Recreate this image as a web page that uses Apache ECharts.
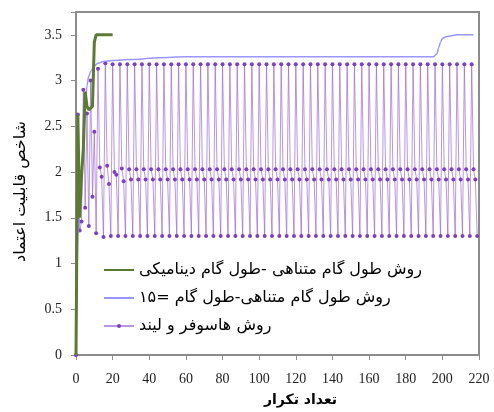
<!DOCTYPE html>
<html>
<head>
<meta charset="utf-8">
<script src="https://cdn.jsdelivr.net/npm/echarts@6/dist/echarts.min.js"></script>
<style>
html,body{margin:0;padding:0;background:#fff;}
#chart{width:494px;height:412px;}
</style>
</head>
<body>
<div id="chart"></div>
<script>
// Series names (legend)
const seriesNames = [
  'روش طول گام متناهی -طول گام دینامیکی',
  'روش طول گام متناهی-طول گام =۱۵',
  'روش هاسوفر و لیند'
];
const xAxisTitle = 'تعداد تکرار';
const yAxisTitle = 'شاخص قابلیت اعتماد';

// Dynamic step length (green), iterations 0..20
const greenY = [0, 2.63, 1.5, 1.95, 2.25, 2.88, 2.72, 2.68, 2.68, 2.72, 3.42, 3.5, 3.5, 3.5, 3.5, 3.5, 3.5, 3.5, 3.5, 3.5, 3.5];

// Finite step length = 15 (blue), read at selected iterations
const blueX = [0, 1, 2, 3, 4, 5, 6, 7, 8, 10, 12, 15, 20, 30, 45, 60, 195, 197, 198, 199, 200, 202, 205, 208, 217];
const blueY = [0, 1.3, 1.62, 1.95, 2.3, 2.65, 2.95, 3.05, 3.1, 3.16, 3.19, 3.21, 3.22, 3.23, 3.25, 3.26, 3.26, 3.29, 3.36, 3.42, 3.46, 3.48, 3.49, 3.5, 3.5];

// Hasofer-Lind (purple), iterations 0..219
const purpleY = [
  0, 2.63, 1.36, 1.46, 2.90, 1.61, 2.64, 1.41, 3.00, 1.73, 2.44, 1.33,
  3.13, 2.05, 1.95, 1.29, 3.19, 2.07, 1.87, 1.30, 3.18, 2.00, 1.97, 1.30,
  3.18, 2.04, 1.90, 1.30,
  /* 28-39 */  3.18, 2.03, 1.92, 1.30, 3.18, 2.03, 1.92, 1.30, 3.18, 2.03, 1.92, 1.30,
  /* 40-51 */  3.18, 2.03, 1.92, 1.30, 3.18, 2.03, 1.92, 1.30, 3.18, 2.03, 1.92, 1.30,
  /* 52-63 */  3.18, 2.03, 1.92, 1.30, 3.18, 2.03, 1.92, 1.30, 3.18, 2.03, 1.92, 1.30,
  /* 64-75 */  3.18, 2.03, 1.92, 1.30, 3.18, 2.03, 1.92, 1.30, 3.18, 2.03, 1.92, 1.30,
  /* 76-87 */  3.18, 2.03, 1.92, 1.30, 3.18, 2.03, 1.92, 1.30, 3.18, 2.03, 1.92, 1.30,
  /* 88-99 */  3.18, 2.03, 1.92, 1.30, 3.18, 2.03, 1.92, 1.30, 3.18, 2.03, 1.92, 1.30,
  /* 100-111 */ 3.18, 2.03, 1.92, 1.30, 3.18, 2.03, 1.92, 1.30, 3.18, 2.03, 1.92, 1.30,
  /* 112-123 */ 3.18, 2.03, 1.92, 1.30, 3.18, 2.03, 1.92, 1.30, 3.18, 2.03, 1.92, 1.30,
  /* 124-135 */ 3.18, 2.03, 1.92, 1.30, 3.18, 2.03, 1.92, 1.30, 3.18, 2.03, 1.92, 1.30,
  /* 136-147 */ 3.18, 2.03, 1.92, 1.30, 3.18, 2.03, 1.92, 1.30, 3.18, 2.03, 1.92, 1.30,
  /* 148-159 */ 3.18, 2.03, 1.92, 1.30, 3.18, 2.03, 1.92, 1.30, 3.18, 2.03, 1.92, 1.30,
  /* 160-171 */ 3.18, 2.03, 1.92, 1.30, 3.18, 2.03, 1.92, 1.30, 3.18, 2.03, 1.92, 1.30,
  /* 172-183 */ 3.18, 2.03, 1.92, 1.30, 3.18, 2.03, 1.92, 1.30, 3.18, 2.03, 1.92, 1.30,
  /* 184-195 */ 3.18, 2.03, 1.92, 1.30, 3.18, 2.03, 1.92, 1.30, 3.18, 2.03, 1.92, 1.30,
  /* 196-207 */ 3.18, 2.03, 1.92, 1.30, 3.18, 2.03, 1.92, 1.30, 3.18, 2.03, 1.92, 1.30,
  /* 208-219 */ 3.18, 2.03, 1.92, 1.30, 3.18, 2.03, 1.92, 1.30, 3.18, 2.03, 1.92, 1.30
];

const xTicks = { min: 0, max: 220, interval: 20 };
const yTicks = { min: 0, max: 3.75, interval: 0.5, lastLabel: 3.5 };

const greenData = greenY.map((v, i) => [i, v]);
const blueData = blueX.map((x, i) => [x, blueY[i]]);
const purpleData = purpleY.map((v, i) => [i, v]);

const chart = echarts.init(document.getElementById('chart'), null, { renderer: 'canvas' });
const serif = 'Liberation Serif';
const arabic = 'DejaVu Sans';
const hiddenSymbol = { color: 'rgba(0,0,0,0)', borderWidth: 0 };

chart.setOption({
  animation: false,
  backgroundColor: '#fff',
  grid: {
    left: 76, right: 15, top: 12, bottom: 56,
    show: true, borderColor: '#8c8c8c', borderWidth: 2, backgroundColor: 'transparent'
  },
  legend: {
    orient: 'vertical',
    left: 103, top: 260,
    padding: 0,
    itemWidth: 30, itemHeight: 5, itemGap: 8,
    data: [
      { name: seriesNames[0], itemStyle: hiddenSymbol },
      { name: seriesNames[1], itemStyle: hiddenSymbol },
      { name: seriesNames[2] }
    ],
    textStyle: { fontFamily: arabic, fontSize: 16, color: '#000', lineHeight: 20 }
  },
  xAxis: {
    type: 'value',
    min: xTicks.min, max: xTicks.max, interval: xTicks.interval,
    name: xAxisTitle,
    nameLocation: 'middle',
    nameGap: 38,
    nameTextStyle: { fontFamily: arabic, fontSize: 14, fontWeight: 'bold', color: '#000', padding: [0, 0, 0, 46] },
    axisLine: { show: true, lineStyle: { color: '#8c8c8c', width: 2 } },
    axisTick: { show: true, inside: false, length: 5, lineStyle: { color: '#8c8c8c', width: 1 } },
    axisLabel: { fontFamily: serif, fontSize: 14, color: '#222', margin: 17 },
    splitLine: { show: false }
  },
  yAxis: {
    type: 'value',
    min: yTicks.min, max: yTicks.max, interval: yTicks.interval,
    name: yAxisTitle,
    nameLocation: 'middle',
    nameRotate: 90,
    nameGap: 47,
    nameTextStyle: { fontFamily: arabic, fontSize: 16, color: '#000', padding: [0, 16, 0, 0] },
    axisLine: { show: true, lineStyle: { color: '#8c8c8c', width: 2 } },
    axisTick: { show: true, inside: false, length: 5, lineStyle: { color: '#8c8c8c', width: 1 } },
    axisLabel: {
      fontFamily: serif, fontSize: 14, color: '#222', margin: 14,
      formatter: v => (v > yTicks.lastLabel + 1e-9 ? '' : String(v))
    },
    splitLine: { show: false }
  },
  series: [
    {
      name: seriesNames[2],
      type: 'line',
      data: purpleData,
      symbol: 'circle',
      symbolSize: 4,
      showSymbol: true,
      lineStyle: { color: 'rgba(155,105,210,0.7)', width: 1 },
      itemStyle: { color: '#7c3fbe' },
      z: 2
    },
    {
      name: seriesNames[1],
      type: 'line',
      data: blueData,
      symbol: 'none',
      smooth: 0.3,
      smoothMonotone: 'x',
      lineStyle: { color: '#9a96ff', width: 1.5 },
      itemStyle: { color: '#9a96ff' },
      z: 3
    },
    {
      name: seriesNames[0],
      type: 'line',
      data: greenData,
      symbol: 'none',
      lineStyle: { color: '#5b7a34', width: 3 },
      itemStyle: { color: '#5b7a34' },
      z: 4
    }
  ]
});
</script>
</body>
</html>
